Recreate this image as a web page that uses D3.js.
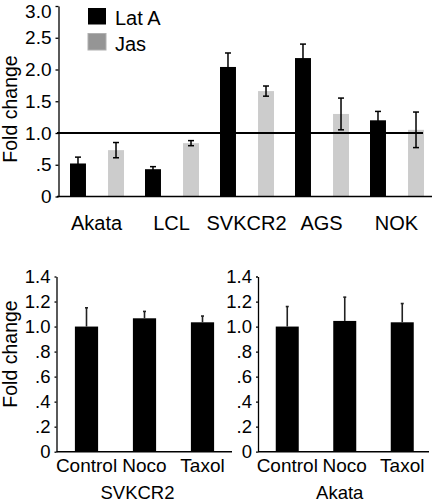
<!DOCTYPE html>
<html>
<head>
<meta charset="utf-8">
<script src="https://cdn.jsdelivr.net/npm/d3@7"></script>
<style>
  html, body { margin: 0; padding: 0; background: #fff; }
  svg { display: block; }
  text { font-family: "Liberation Sans", Arial, Helvetica, sans-serif; fill: #000; }
</style>
</head>
<body>
<svg id="chart" width="432" height="501"></svg>
<script>
// ---- Data ----
const topCategories = ["Akata", "LCL", "SVKCR2", "AGS", "NOK"];
const topSeries = ["Lat A", "Jas"];
const latAValues = [0.52, 0.43, 2.04, 2.18, 1.20];
const latAErrors = [0.10, 0.04, 0.22, 0.22, 0.14];
const jasValues  = [0.73, 0.84, 1.66, 1.30, 1.05];
const jasErrors  = [0.12, 0.04, 0.08, 0.25, 0.28];
const topTickValues = [0, 0.5, 1, 1.5, 2, 2.5, 3];
const topTickLabels = ["0", ".5", "1.0", "1.5", "2.0", "2.5", "3.0"];
const referenceValue = 1.0;

const drugCategories = ["Control", "Noco", "Taxol"];
const svkcr2Values = [1.00, 1.066, 1.034];
const svkcr2Errors = [0.15, 0.055, 0.05];
const akataValues  = [1.00, 1.045, 1.034];
const akataErrors  = [0.16, 0.19, 0.15];
const bottomTickValues = [0, 0.2, 0.4, 0.6, 0.8, 1.0, 1.2, 1.4];
const bottomTickLabels = ["0", ".2", ".4", ".6", ".8", "1.0", "1.2", "1.4"];
const panelTitles = ["SVKCR2", "Akata"];
const yTitle = "Fold change";

const colors = { "Lat A": "#000000", "Jas": "#cccccc" };
const legendColors = { "Lat A": "#000000", "Jas": "#959595" };

const svg = d3.select("#chart");

// ---- Top chart ----
const yTop = d3.scaleLinear().domain([0, 3]).range([196.5, 6]);
const x0 = d3.scaleBand().domain(topCategories).range([59, 434]);
const x1 = d3.scaleBand().domain(topSeries).range([11, 65]).paddingInner(0.58);

const topG = svg.append("g");
const seriesData = {
  "Lat A": latAValues.map((v, i) => ({ cat: topCategories[i], v, e: latAErrors[i] })),
  "Jas": jasValues.map((v, i) => ({ cat: topCategories[i], v, e: jasErrors[i] }))
};

topSeries.forEach(s => {
  const g = topG.append("g");
  g.selectAll("rect").data(seriesData[s]).join("rect")
    .attr("x", d => x0(d.cat) + x1(s))
    .attr("width", x1.bandwidth())
    .attr("y", d => yTop(d.v))
    .attr("height", d => yTop(0) - yTop(d.v))
    .attr("fill", colors[s]);
});

// reference line
topG.append("line")
  .attr("x1", 57).attr("x2", 423)
  .attr("y1", yTop(referenceValue)).attr("y2", yTop(referenceValue))
  .attr("stroke", "#000").attr("stroke-width", 2);

// error bars (top)
topSeries.forEach(s => {
  const g = topG.append("g").attr("stroke", "#000").attr("stroke-width", 1.5);
  seriesData[s].forEach(d => {
    const cx = x0(d.cat) + x1(s) + x1.bandwidth() / 2;
    const hi = yTop(d.v + d.e), lo = yTop(d.v - d.e);
    g.append("line").attr("x1", cx).attr("x2", cx).attr("y1", hi).attr("y2", lo);
    g.append("line").attr("x1", cx - 3).attr("x2", cx + 3).attr("y1", hi).attr("y2", hi);
    g.append("line").attr("x1", cx - 3).attr("x2", cx + 3).attr("y1", lo).attr("y2", lo);
  });
});

// y axis top
const yAxisTop = topG.append("g").attr("transform", "translate(58.5,0)")
  .call(d3.axisLeft(yTop).tickValues(topTickValues)
    .tickFormat((d, i) => topTickLabels[i]).tickSize(3).tickSizeOuter(0).tickPadding(4));
yAxisTop.selectAll("text").style("font-size", "19px").attr("fill", "#000");
// the top label sits a little below its tick in the reference
yAxisTop.selectAll(".tick").filter(d => d === 3).select("text").attr("dy", "0.62em");
yAxisTop.selectAll("line, path").attr("stroke", "#000").attr("stroke-width", 1.3);

// x baseline
topG.append("line").attr("x1", 57).attr("x2", 432)
  .attr("y1", yTop(0)).attr("y2", yTop(0))
  .attr("stroke", "#000").attr("stroke-width", 1.6);

// x labels top
const xAxisTop = topG.append("g").attr("transform", `translate(0,${yTop(0)})`)
  .call(d3.axisBottom(x0).tickSize(0));
xAxisTop.select(".domain").remove();
xAxisTop.selectAll("text").style("font-size", "20px").attr("fill", "#000")
  .attr("y", 33.5).attr("dy", 0);

// y title
topG.append("text")
  .attr("transform", `translate(17,109) rotate(-90)`)
  .attr("text-anchor", "middle")
  .style("font-size", "19.5px")
  .text(yTitle);

// legend
const legend = topG.append("g");
topSeries.forEach((s, i) => {
  legend.append("rect")
    .attr("x", 88).attr("y", 8 + i * 25.5)
    .attr("width", 18).attr("height", 16.5)
    .attr("fill", legendColors[s])
    .attr("stroke", s === "Jas" ? "#b0b0b0" : "none").attr("stroke-width", 1);
  legend.append("text")
    .attr("x", 115).attr("y", 25 + i * 25.5)
    .style("font-size", "20px")
    .text(s);
});

// ---- Bottom charts ----
const yBot = d3.scaleLinear().domain([0, 1.4]).range([451.7, 276.5]);
const panels = [
  { values: svkcr2Values, errors: svkcr2Errors, title: panelTitles[0], range: [57.5, 231.5], axisX: 56.5, axisEnd: 232, showTitle: true },
  { values: akataValues, errors: akataErrors, title: panelTitles[1], range: [258.5, 431], axisX: 258, axisEnd: 429, showTitle: false }
];

panels.forEach(p => {
  const g = svg.append("g");
  const x = d3.scaleBand().domain(drugCategories).range(p.range).paddingInner(0.6).paddingOuter(0.3);
  const data = p.values.map((v, i) => ({ cat: drugCategories[i], v, e: p.errors[i] }));

  g.selectAll("rect").data(data).join("rect")
    .attr("x", d => x(d.cat))
    .attr("width", x.bandwidth())
    .attr("y", d => yBot(d.v))
    .attr("height", d => yBot(0) - yBot(d.v))
    .attr("fill", "#000");

  const eg = g.append("g").attr("stroke", "#222").attr("stroke-width", 1.6);
  data.forEach(d => {
    const cx = x(d.cat) + x.bandwidth() / 2;
    const hi = yBot(d.v + d.e);
    eg.append("line").attr("x1", cx).attr("x2", cx).attr("y1", hi).attr("y2", yBot(d.v));
    eg.append("line").attr("x1", cx - 1.5).attr("x2", cx + 1.5).attr("y1", hi).attr("y2", hi);
  });

  const ya = g.append("g").attr("transform", `translate(${p.axisX},0)`)
    .call(d3.axisLeft(yBot).tickValues(bottomTickValues)
      .tickFormat((d, i) => bottomTickLabels[i]).tickSize(2).tickSizeOuter(0).tickPadding(4));
  ya.selectAll("text").style("font-size", "18.5px").attr("fill", "#000");
  ya.selectAll("line, path").attr("stroke", "#000").attr("stroke-width", 1.3);

  g.append("line").attr("x1", p.axisX).attr("x2", p.axisEnd)
    .attr("y1", yBot(0)).attr("y2", yBot(0))
    .attr("stroke", "#000").attr("stroke-width", 1.5);

  const xa = g.append("g").attr("transform", `translate(0,${yBot(0)})`)
    .call(d3.axisBottom(x).tickSize(0));
  xa.select(".domain").remove();
  xa.selectAll("text").style("font-size", "19px").attr("fill", "#000")
    .attr("y", 20.5).attr("dy", 0);

  g.append("text")
    .attr("x", (p.range[0] + p.range[1]) / 2 + (p.showTitle ? -7 : -5))
    .attr("y", 498.5)
    .attr("text-anchor", "middle")
    .style("font-size", "18.5px")
    .text(p.title);

  if (p.showTitle) {
    g.append("text")
      .attr("transform", `translate(17,354) rotate(-90)`)
      .attr("text-anchor", "middle")
      .style("font-size", "19.5px")
      .text(yTitle);
  }
});
</script>
</body>
</html>
